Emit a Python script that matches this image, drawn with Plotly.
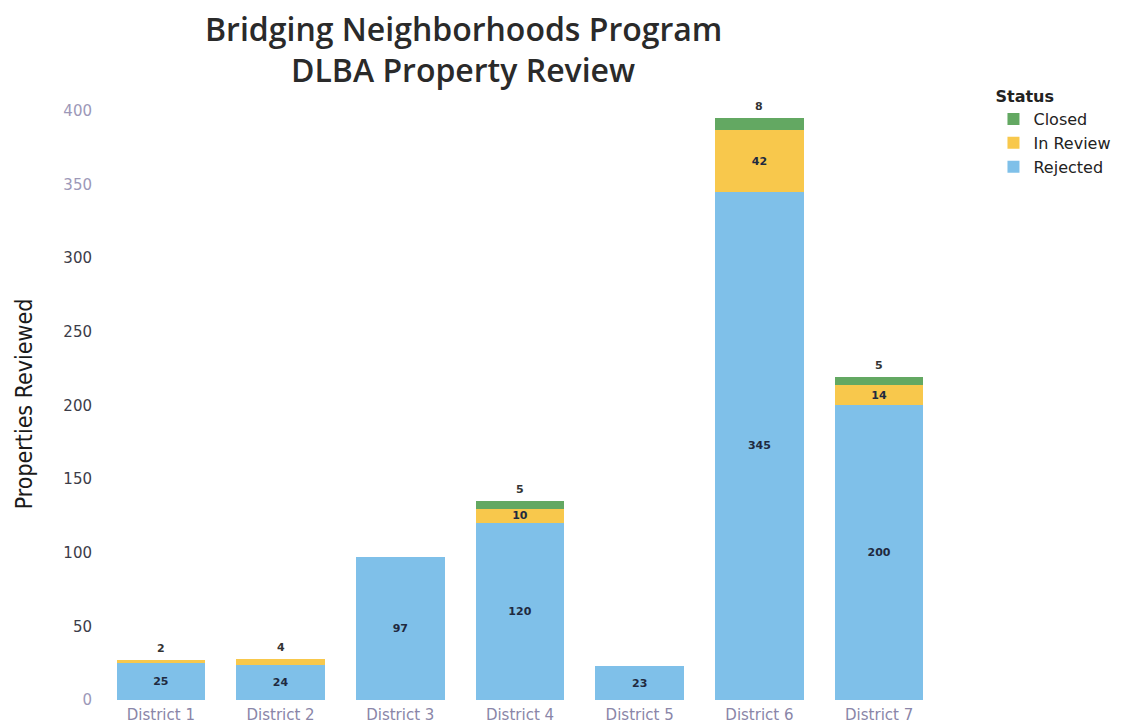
import plotly.graph_objects as go

districts = ["District 1", "District 2", "District 3", "District 4", "District 5", "District 6", "District 7"]
rejected = [25, 24, 97, 120, 23, 345, 200]
in_review = [2, 4, 0, 10, 0, 42, 14]
closed = [0, 0, 0, 5, 0, 8, 5]
y_ticks = [0, 50, 100, 150, 200, 250, 300, 350, 400]
title_lines = ["Bridging Neighborhoods Program", "DLBA Property Review"]

series = [
    ("Rejected", rejected, "#7fc0e9"),
    ("In Review", in_review, "#f8c84c"),
    ("Closed", closed, "#63a862"),
]

INSIDE_MIN = 10
L, R, T, B = 93, 205, 100, 36

fig = go.Figure()
for name, vals, color in series:
    fig.add_trace(go.Bar(
        name=name,
        x=districts,
        y=[v if v > 0 else None for v in vals],
        marker=dict(color=color, line=dict(width=0)),
        text=[str(v) if v >= INSIDE_MIN else "" for v in vals],
        textposition="inside",
        insidetextanchor="middle",
        textangle=0,
        textfont=dict(family="DejaVu Sans", size=11, color="#1f2a40", weight="bold"),
        hoverinfo="x+y+name",
    ))

# small top segments labelled above the stack
for i, d in enumerate(districts):
    total = rejected[i] + in_review[i] + closed[i]
    top_val = closed[i] if closed[i] > 0 else (in_review[i] if in_review[i] > 0 else 0)
    if 0 < top_val < INSIDE_MIN:
        fig.add_annotation(x=d, y=total, text=str(top_val), showarrow=False,
                           yanchor="bottom", yshift=3,
                           font=dict(family="DejaVu Sans", size=11, color="#333333", weight="bold"))

# two-line title placed by pixel offsets from the plot top
for line, py in zip(title_lines, [20, 61]):
    fig.add_annotation(xref="paper", yref="paper", x=0, y=1, xanchor="center", yanchor="middle",
                       xshift=455 - L, yshift=T - py, text=line, showarrow=False,
                       font=dict(family="Open Sans", size=32, color="#2a2a2a", weight=600))

def tick_label(v):
    col = "#9c98b8" if v in (0, 350, 400) else "#3c3c48"
    return f"<span style='color:{col}'>{v}</span>"

fig.update_layout(
    width=1136, height=728,
    barmode="stack",
    bargap=0.26,
    uniformtext=dict(minsize=11, mode="show"),
    paper_bgcolor="white",
    plot_bgcolor="white",
    margin=dict(l=L, r=R, t=T, b=B),
    legend=dict(
        title=dict(text="<b>Status</b>", font=dict(family="DejaVu Sans", size=16, color="#222222")),
        traceorder="reversed",
        x=1.065, xanchor="left", y=1.045, yanchor="top",
        font=dict(family="DejaVu Sans", size=16, color="#222222"),
        itemwidth=30,
        tracegroupgap=0,
    ),
    xaxis=dict(
        showgrid=False, showline=False, zeroline=False,
        tickfont=dict(family="DejaVu Sans", size=15, color="#8a86a8"),
        ticklabelstandoff=4,
        ticks="",
    ),
    yaxis=dict(
        title=dict(text="Properties Reviewed",
                   font=dict(family="Liberation Sans Narrow, DejaVu Sans Condensed, Arial Narrow", size=23, color="#1a1a1a"),
                   standoff=24),
        range=[0, 402],
        tickvals=y_ticks,
        ticktext=[tick_label(v) for v in y_ticks],
        showgrid=False, showline=False, zeroline=False,
        tickfont=dict(family="DejaVu Sans", size=15, color="#3c3c48"),
        ticklabelstandoff=8,
        ticks="",
    ),
)

fig.write_html("out.html")
